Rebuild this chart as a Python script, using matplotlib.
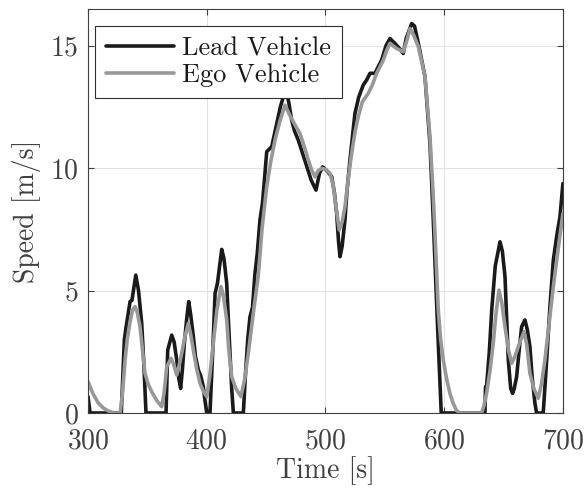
import matplotlib
matplotlib.use('Agg')
import matplotlib.pyplot as plt
import numpy as np

# Lead vehicle speed profile (time [s], speed [m/s])
lead_t = [300, 301.7, 328, 330.6, 332, 335.4, 337, 340.2, 342.5, 345.2, 347, 348.8,
          365.7, 367.1, 370.5, 372.5, 374.7, 376.5, 378, 379.5, 381.1, 383, 384.8,
          386.5, 388.7, 390.5, 392.9, 395, 397.1, 398.5, 400, 402.7, 405, 407, 409,
          412.6, 414.5, 416.8, 418, 419.6, 421, 422.4, 430.8, 432.5, 434.5, 436.4,
          438.5, 440.6, 442.5, 444.8, 447, 450.5, 454.7, 458.9, 462, 464.5, 467.3,
          469, 471.5, 474, 477.1, 480, 484.2, 488, 492, 495, 497.6, 501, 505.2,
          507.5, 509.4, 511, 512.2, 514, 516.4, 518, 520.6, 524.8, 528, 531.8,
          534.7, 537.5, 541.7, 544, 547.3, 551, 554.3, 558.5, 562, 565.5, 568,
          572.6, 575, 578.2, 583.8, 588, 590.8, 594, 597.5, 634.3, 634.8, 635.7,
          638, 640, 643, 647, 649, 651.2, 652.5, 654, 656, 657.6, 659, 661, 663,
          665.2, 668, 670, 672.2, 674, 676.4, 677.8, 683.4, 686.3, 689, 691.9, 695,
          697.5, 700]
lead_v = [0.67, 0, 0, 3.0, 3.5, 4.55, 4.6, 5.63, 5.0, 3.66, 2.0, 0,
          0, 2.57, 3.18, 2.9, 2.16, 1.4, 1.0, 1.8, 2.84, 3.8, 4.55,
          4.0, 3.12, 2.3, 1.76, 1.5, 1.07, 0.5, 0, 0, 2.5, 4.88, 5.3,
          6.68, 6.3, 5.29, 4.0, 2.44, 1.0, 0, 0, 1.5, 3.0, 3.93,
          4.3, 5.7, 6.5, 7.88, 8.6, 10.67, 10.87, 11.82, 12.5, 12.91, 13.05,
          12.7, 11.96, 11.5, 11.14, 10.7, 10.05, 9.5, 9.1, 9.8, 10.05, 9.9, 9.65,
          9.0, 8.15, 7.0, 6.38, 6.8, 7.88, 9.0, 10.33, 12.23, 12.9, 13.39,
          13.6, 13.87, 13.87, 14.1, 14.41, 15.0, 15.29, 15.09, 14.9, 14.68, 15.3,
          15.9, 15.8, 15.09, 13.74, 11.0, 7.88, 4.0, 0, 0, 1.07, 1.1,
          2.5, 4.2, 6.0, 6.99, 6.6, 5.57, 4.0, 2.16, 1.0, 0.8, 1.0, 1.48, 2.5,
          3.52, 3.8, 3.4, 2.71, 1.5, 0.4, 0, 0, 2.16, 4.3, 6.24, 7.3,
          8.01, 9.37]

# Ego vehicle speed profile
ego_t = [300, 304, 308.7, 313, 317.1, 322, 327, 329, 331.2, 333, 335.4, 337.5,
         339.6, 341.5, 343.8, 346, 348, 350.5, 353.6, 358, 362, 364, 366.3,
         369.9, 372, 374.7, 376.5, 378.9, 381.5, 384.5, 386.5, 388.7, 391.5,
         394.3, 397, 400, 402.5, 405.5, 408.5, 412, 414, 416.8, 418.5, 421,
         424.5, 428.8, 432, 435, 439, 443.4, 446.5, 450.5, 454, 457.5, 461.5,
         465.9, 469.5, 472.9, 478.5, 482, 485.5, 488.5, 491.2, 494, 496.8, 500,
         503.8, 506.5, 508.8, 511.6, 514, 516.4, 519, 522, 525, 527.6, 531, 536,
         539.5, 543.1, 548.7, 551.5, 554.3, 560, 565.5, 568.5, 571.2, 574.5,
         578.2, 583.8, 588, 590.5, 592, 595, 597, 599.2, 602, 604.8, 607.5,
         610.4, 613, 631.5, 633.5, 635.7, 638.5, 641.3, 643.5, 646.1, 648.5,
         651.2, 654, 656.8, 659.5, 662.4, 667.2, 669.5, 672.2, 675.5, 679.2,
         682, 684.8, 688, 691.9, 696, 700]
ego_v = [1.28, 0.8, 0.4, 0.2, 0.08, 0.0, 0.0, 0.8, 2.16, 3.0, 3.73, 4.2,
         4.34, 4.1, 3.52, 2.5, 1.62, 1.2, 0.87, 0.5, 0.26, 0.8, 1.89,
         2.23, 2.0, 1.55, 1.9, 2.44, 3.1, 3.66, 3.2, 2.57, 1.8,
         1.21, 0.9, 0.67, 1.5, 2.84, 4.2, 5.16, 4.8, 3.8, 2.6, 1.48,
         1.0, 0.67, 1.4, 2.44, 4.0, 5.6, 7.5, 9.24, 10.3, 11.14, 11.9,
         12.57, 12.2, 11.89, 11.41, 10.9, 10.33, 9.9, 9.65, 9.9, 9.99, 9.95,
         9.78, 9.3, 8.42, 7.47, 7.8, 8.42, 9.5, 10.6, 11.5, 12.1, 12.7, 13.05,
         13.4, 13.87, 14.41, 14.8, 15.09, 14.88, 14.75, 15.2, 15.7, 15.4,
         14.96, 13.74, 11.28, 9.1, 7.6, 4.2, 3.0, 2.16, 1.4, 0.8, 0.4,
         0.1, 0, 0, 0.3, 0.8, 1.7, 2.84, 4.0, 5.02, 4.5,
         3.52, 2.6, 2.03, 2.3, 2.71, 3.32, 2.8, 1.62, 1.0, 0.6,
         1.2, 2.16, 3.5, 5.16, 6.7, 8.15]

xticks = [300, 400, 500, 600, 700]
yticks = [0, 5, 10, 15]

plt.rcParams['font.family'] = ['cmr10', 'DejaVu Serif']
plt.rcParams['axes.formatter.use_mathtext'] = True
plt.rcParams['mathtext.fontset'] = 'cm'

txt = '#404040'
fig = plt.figure(figsize=(5.87, 4.94), dpi=100)
ax = fig.add_axes([0.150, 0.164, 0.809, 0.818])

ax.plot(lead_t, lead_v, color='#1a1a1a', lw=2.6, label='Lead Vehicle',
        solid_joinstyle='round', solid_capstyle='round')
ax.plot(ego_t, ego_v, color='#989898', lw=2.6, label='Ego Vehicle',
        solid_joinstyle='round', solid_capstyle='round')

ax.set_xlim(300, 700)
ax.set_ylim(0, 16.5)
ax.set_xticks(xticks)
ax.set_yticks(yticks)
ax.grid(True, color='#e3e3e3', lw=0.8)
ax.set_axisbelow(True)
ax.tick_params(direction='in', top=True, right=True, length=4, width=0.8,
               colors='#404040', labelsize=20, pad=7, labelcolor=txt)
ax.tick_params(axis='x', pad=11)
for s in ax.spines.values():
    s.set_color('#404040')
    s.set_linewidth(0.8)

ax.set_xlabel('Time [s]', fontsize=20, color=txt, labelpad=1)
ax.set_ylabel('Speed [m/s]', fontsize=20, color=txt, labelpad=6)

leg = ax.legend(loc='upper left', bbox_to_anchor=(0.0147, 0.958), borderaxespad=0,
                fontsize=19, handlelength=2.6, handletextpad=0.3, labelspacing=0.12,
                borderpad=0.4, fancybox=False, framealpha=1, edgecolor='#303030')
leg.get_frame().set_linewidth(0.8)
for t in leg.get_texts():
    t.set_color('#1a1a1a')

fig.savefig('out.png', dpi=100)
